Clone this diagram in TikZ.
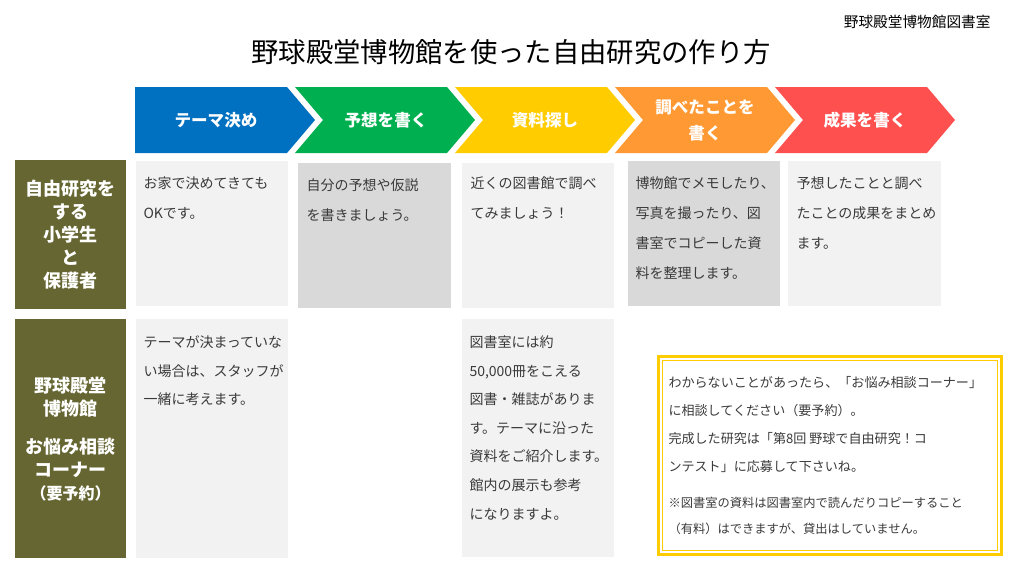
\documentclass[tikz,border=0pt]{standalone}
\usepackage{fontspec}
\setmainfont{Noto Sans CJK JP}

\definecolor{themeblue}{HTML}{0070C0}
\definecolor{themegreen}{HTML}{00B050}
\definecolor{themeyellow}{HTML}{FFCC00}
\definecolor{themeorange}{HTML}{FF9933}
\definecolor{themered}{HTML}{FF5050}
\definecolor{olive}{HTML}{666633}
\definecolor{cellgrey}{HTML}{F2F2F2}
\definecolor{celldark}{HTML}{D9D9D9}
\definecolor{celltxt}{HTML}{3A3A3A}
\definecolor{framegold}{HTML}{FFCC00}

\tikzset{every picture/.style={line width=0.75pt},
	headtext/.style={text=white, inner sep=0pt, align=center, font=\bfseries\fontsize{12.4}{19.5}\selectfont},
	whotext/.style={text=white, inner sep=0pt, align=center, font=\bfseries\fontsize{13.5}{17.25}\selectfont},
	celltext/.style={anchor=north west, inner sep=0pt, align=left, text=celltxt, font=\fontsize{10.5}{22.5}\selectfont},
	notetext/.style={anchor=north west, inner sep=0pt, align=left, text=celltxt, font=\fontsize{9.8}{21}\selectfont},
}

\begin{document}
\begin{tikzpicture}[x=0.75pt,y=0.75pt,yscale=-1,xscale=1]
	\useasboundingbox (0,0) rectangle (1024,576);
	
	% Text Node
	\node (library) at (991,22) [anchor=east, inner sep=0pt, font=\fontsize{11}{13}\selectfont] {野球殿堂博物館図書室};
	% Text Node
	\node (title) at (511,52) [inner sep=0pt, font=\fontsize{20.5}{24}\selectfont] {野球殿堂博物館を使った自由研究の作り方};
	
	%Shape: Chevron
	\fill [color=themeblue]   (135,87) -- (287,87) -- (315,120) -- (287,153) -- (135,153) -- cycle ;
	%Shape: Chevron
	\fill [color=themegreen]  (295,87) -- (447,87) -- (475,120) -- (447,153) -- (295,153) -- (323,120) -- cycle ;
	%Shape: Chevron
	\fill [color=themeyellow] (455,87) -- (607,87) -- (635,120) -- (607,153) -- (455,153) -- (483,120) -- cycle ;
	%Shape: Chevron
	\fill [color=themeorange] (615,87) -- (767,87) -- (795,120) -- (767,153) -- (615,153) -- (643,120) -- cycle ;
	%Shape: Chevron
	\fill [color=themered]    (775,87) -- (927,87) -- (955,120) -- (927,153) -- (775,153) -- (803,120) -- cycle ;
	
	% Text Node
	\node (head1) at (216,120) [headtext] {テーマ決め};
	% Text Node
	\node (head2) at (386,120) [headtext] {予想を書く};
	% Text Node
	\node (head3) at (545,120) [headtext] {資料探し};
	% Text Node
	\node (head4) at (705,120) [headtext] {調べたことを\\書く};
	% Text Node
	\node (head5) at (865,120) [headtext] {成果を書く};
	
	%Shape: Rectangle
	\fill [color=olive]    (15,160) -- (126,160) -- (126,309) -- (15,309) -- cycle ;
	%Shape: Rectangle
	\fill [color=cellgrey] (136,161) -- (288,161) -- (288,306) -- (136,306) -- cycle ;
	%Shape: Rectangle
	\fill [color=celldark] (298,163) -- (451,163) -- (451,308) -- (298,308) -- cycle ;
	%Shape: Rectangle
	\fill [color=cellgrey] (462,163) -- (614,163) -- (614,308) -- (462,308) -- cycle ;
	%Shape: Rectangle
	\fill [color=celldark] (628,161) -- (780,161) -- (780,306) -- (628,306) -- cycle ;
	%Shape: Rectangle
	\fill [color=cellgrey] (788,161) -- (941,161) -- (941,306) -- (788,306) -- cycle ;
	
	%Shape: Rectangle
	\fill [color=olive]    (15,319) -- (126,319) -- (126,558) -- (15,558) -- cycle ;
	%Shape: Rectangle
	\fill [color=cellgrey] (136,319) -- (288,319) -- (288,558) -- (136,558) -- cycle ;
	%Shape: Rectangle
	\fill [color=cellgrey] (462,319) -- (614,319) -- (614,557) -- (462,557) -- cycle ;
	
	% Text Node
	\node (who1) at (70.5,235) [whotext] {自由研究を\\する\\小学生\\と\\保護者};
	% Text Node
	\node (who2) at (70.5,439) [whotext] {野球殿堂\\博物館\\[11pt]お悩み相談\\コーナー\\{\fontsize{12}{14}\selectfont （要予約）}};
	
	% Text Node
	\node (c11) at (143,176.5) [celltext] {お家で決めてきても\\OKです。};
	% Text Node
	\node (c12) at (306,178) [celltext] {自分の予想や仮説\\を書きましょう。};
	% Text Node
	\node (c13) at (470,176.5) [celltext] {近くの図書館で調べ\\てみましょう！};
	% Text Node
	\node (c14) at (635,176.5) [celltext] {博物館でメモしたり、\\写真を撮ったり、図\\書室でコピーした資\\料を整理します。};
	% Text Node
	\node (c15) at (796,176.5) [celltext] {予想したことと調べ\\たことの成果をまとめ\\ます。};
	% Text Node
	\node (c21) at (143,335.5) [celltext, font=\fontsize{10.5}{21.4}\selectfont] {テーマが決まっていな\\い場合は、スタッフが\\一緒に考えます。};
	% Text Node
	\node (c23) at (469,335.5) [celltext, font=\fontsize{10.5}{21.4}\selectfont] {図書室には約\\50,000冊をこえる\\図書・雑誌がありま\\す。テーマに沿った\\資料をご紹介します。\\館内の展示も参考\\になりますよ。};
	
	%Shape: Rectangle
	\draw [color=framegold, line width=2.25] (658.5,356.5) -- (1001.5,356.5) -- (1001.5,554.5) -- (658.5,554.5) -- cycle ;
	%Shape: Rectangle
	\draw [color=framegold, line width=1] (662.5,360.5) -- (997.5,360.5) -- (997.5,550.5) -- (662.5,550.5) -- cycle ;
	% Text Node
	\node (note) at (668,376) [notetext] {わからないことがあったら、「お悩み相談コーナー」\\に相談してください（要予約）。\\完成した研究は「第8回 野球で自由研究！コ\\ンテスト」に応募して下さいね。};
	% Text Node
	\node (notesmall) at (668,496.5) [notetext, font=\fontsize{9.2}{19.5}\selectfont] {※図書室の資料は図書室内で読んだりコピーすること\\（有料）はできますが、貸出はしていません。};
	
\end{tikzpicture}
\end{document}
